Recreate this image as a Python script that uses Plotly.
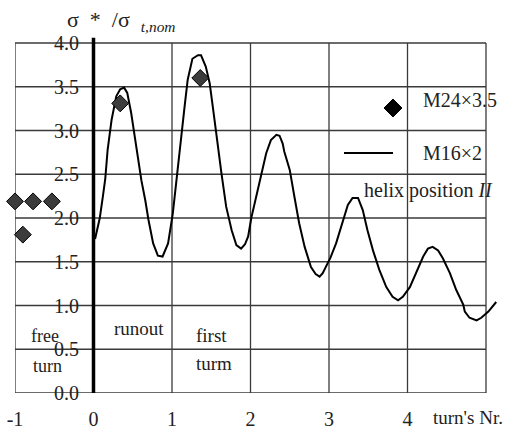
import plotly.graph_objects as go

# ---- data ----
m16_x = [0.02, 0.05, 0.08, 0.12, 0.15, 0.18, 0.23, 0.29, 0.34, 0.39, 0.43, 0.48, 0.54, 0.61, 0.66, 0.70,
         0.76, 0.82, 0.88, 0.95, 1.01, 1.07, 1.12, 1.16, 1.20, 1.26, 1.33, 1.37, 1.43, 1.48, 1.52, 1.56,
         1.63, 1.69, 1.76, 1.82, 1.88, 1.93, 1.97, 2.01, 2.07, 2.14, 2.20, 2.26, 2.33, 2.37, 2.41, 2.43,
         2.50, 2.56, 2.62, 2.69, 2.77, 2.83, 2.88, 2.92, 2.96, 3.02, 3.09, 3.18, 3.24, 3.30, 3.37, 3.43,
         3.49, 3.56, 3.64, 3.73, 3.81, 3.88, 3.94, 4.03, 4.11, 4.20, 4.26, 4.32, 4.39, 4.45, 4.54, 4.62,
         4.71, 4.73, 4.79, 4.88, 4.94, 5.03, 5.13]
m16_y = [1.76, 1.88, 2.00, 2.25, 2.45, 2.78, 3.12, 3.39, 3.47, 3.49, 3.43, 3.20, 2.82, 2.43, 2.20, 1.98,
         1.71, 1.57, 1.56, 1.71, 2.05, 2.51, 2.89, 3.27, 3.58, 3.82, 3.86, 3.86, 3.73, 3.54, 3.27, 2.97,
         2.51, 2.13, 1.86, 1.69, 1.65, 1.70, 1.79, 2.00, 2.24, 2.51, 2.74, 2.89, 2.95, 2.94, 2.85, 2.76,
         2.55, 2.24, 1.94, 1.67, 1.44, 1.36, 1.33, 1.37, 1.44, 1.55, 1.71, 1.98, 2.15, 2.23, 2.23, 2.09,
         1.86, 1.63, 1.41, 1.21, 1.10, 1.06, 1.10, 1.21, 1.37, 1.56, 1.65, 1.67, 1.63, 1.54, 1.37, 1.18,
         1.01, 0.93, 0.86, 0.83, 0.86, 0.93, 1.04]

m24_x = [-1.00, -0.77, -0.53, -0.90, 0.34, 1.36]
m24_y = [2.19, 2.19, 2.19, 1.81, 3.31, 3.60]

x_ticks = [-1, 0, 1, 2, 3, 4]
x_tick_labels = ["-1", "0", "1", "2", "3", "4"]
x_grid = [-1, 0, 1, 2, 3, 4, 5]
y_ticks = [0.0, 0.5, 1.0, 1.5, 2.0, 2.5, 3.0, 3.5, 4.0]
y_tick_labels = ["0.0", "0.5", "1.0", "1.5", "2.0", "2.5", "3.0", "3.5", "4.0"]

# ---- layout geometry ----
W, H = 509, 430
L, R, T, B = 15, 11, 36, 37
PW, PH = W - L - R, H - T - B
FONT = "Liberation Serif"
TXT = "#222222"
GRID = "#3a3a3a"
NB = "\u00a0"


def px(xp):
    return (xp - L) / PW


def py(yp):
    return (H - B - yp) / PH


fig = go.Figure()

fig.add_trace(go.Scatter(x=m16_x, y=m16_y, mode="lines",
                         line=dict(color="black", width=2), showlegend=False,
                         cliponaxis=False, hoverinfo="skip"))
fig.add_trace(go.Scatter(x=m24_x, y=m24_y, mode="markers",
                         marker=dict(symbol="diamond", size=13, color="#3c3c3c",
                                     line=dict(color="black", width=1)),
                         showlegend=False, cliponaxis=False, hoverinfo="skip"))

shapes = []
for gx in x_grid:
    shapes.append(dict(type="line", xref="x", yref="y", x0=gx, x1=gx, y0=0, y1=4,
                       line=dict(color=GRID, width=1.3), layer="below"))
for gy in y_ticks:
    shapes.append(dict(type="line", xref="x", yref="y", x0=-1, x1=5, y0=gy, y1=gy,
                       line=dict(color=GRID, width=1.3), layer="below"))
# thick line at turn 0
shapes.append(dict(type="line", xref="x", yref="y", x0=0, x1=0, y0=0, y1=4.06,
                   line=dict(color="black", width=3.5), layer="below"))
# legend symbols
cx, cy, hs = 393, 108, 9
shapes.append(dict(type="path", xref="paper", yref="paper",
                   path=f"M {px(cx-hs)} {py(cy)} L {px(cx)} {py(cy-hs)} L {px(cx+hs)} {py(cy)} L {px(cx)} {py(cy+hs)} Z",
                   fillcolor="black", line=dict(color="black", width=1), layer="above"))
shapes.append(dict(type="line", xref="paper", yref="paper", x0=px(344), x1=px(393),
                   y0=py(153), y1=py(153), line=dict(color="black", width=1.8), layer="above"))

ann = []


def text(s, xp, yp, size=20, xanchor="center"):
    ann.append(dict(text=s, x=px(xp), y=py(yp), xref="paper", yref="paper",
                    xanchor=xanchor, yanchor="middle", showarrow=False,
                    font=dict(family=FONT, size=size, color=TXT)))


text("M24×3.5", 421, 100, xanchor="left")
text("M16×2", 421, 153, xanchor="left")
text("helix position <i>II</i>", 362, 190, xanchor="left")
text("free", 45, 336, size=18)
text("turn", 47, 366, size=18)
text("runout", 139, 328, size=19)
text("first", 211, 335, size=19)
text("turm", 214, 363, size=19)
text("turn's Nr.", 431, 417, size=19, xanchor="left")
text(f"σ{NB}{NB}*{NB}{NB}/σ{NB}{NB}<sub><i>t,nom</i></sub>", 65, 21, size=22, xanchor="left")

fig.update_layout(
    width=W, height=H,
    margin=dict(l=L, r=R, t=T, b=B, autoexpand=False),
    paper_bgcolor="white", plot_bgcolor="white",
    shapes=shapes, annotations=ann,
    font=dict(family=FONT, color=TXT),
    xaxis=dict(range=[-1, -1 + PW / 78.5], domain=[0, 1], showgrid=False, zeroline=False,
               showline=False, tickmode="array", tickvals=x_ticks,
               ticktext=x_tick_labels, ticks="", ticklabelstandoff=12,
               tickfont=dict(size=20, family=FONT, color=TXT)),
    yaxis=dict(range=[0, PH / 87.5], showgrid=False, zeroline=False,
               anchor="free", position=px(79),
               showline=False, tickmode="array", tickvals=y_ticks,
               ticktext=y_tick_labels, ticks="", ticklabelstandoff=0,
               tickfont=dict(size=20, family=FONT, color=TXT)),
)

fig.write_html("out.html", config={"displayModeBar": False},
               post_script="document.body.style.margin='0';")
